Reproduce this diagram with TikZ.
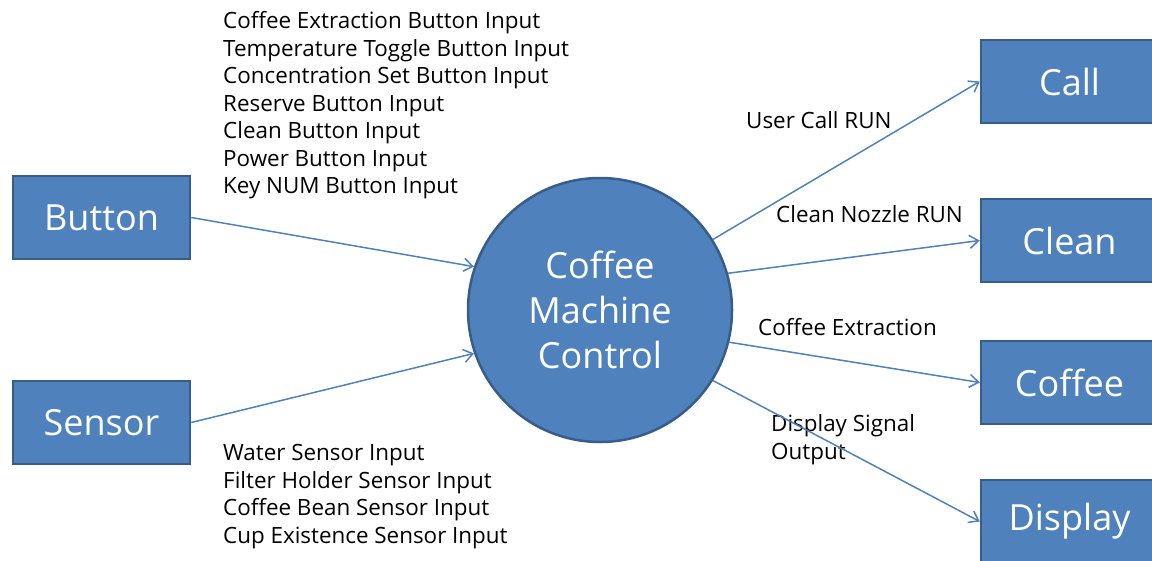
\documentclass[tikz,border=0pt]{standalone}
\usepackage{fontspec}
\setmainfont{Open Sans}
\usetikzlibrary{arrows.meta, positioning, shapes.geometric}
\definecolor{boxfill}{HTML}{4F81BD}
\definecolor{boxline}{HTML}{385D8A}

\begin{document}
\begin{tikzpicture}[x=1pt,y=-1pt,>={Straight Barb[length=9pt,width=13pt,line width=1.5pt]}]
  \tikzstyle{block}=[draw=boxline,line width=2.5pt,fill=boxfill,text=white,
    minimum width=177pt,minimum height=83pt,font=\fontsize{36}{40}\selectfont]
  \tikzstyle{ctrl}=[circle,draw=boxline,line width=2.5pt,fill=boxfill,text=white,
    minimum size=264pt,align=center,font=\fontsize{36}{45}\selectfont]
  \tikzstyle{flow}=[color=boxfill,line width=1.5pt]
  \tikzstyle{lbl}=[anchor=west,align=left,inner sep=0pt,font=\fontsize{22.4}{27.5}\selectfont]

  \useasboundingbox (0,0) rectangle (1152,560);
  \clip (0,0) rectangle (1152,560);

  % inputs and outputs
  \node[block] (button)  at (101.5,217.5) {Button};
  \node[block] (sensor)  at (101.5,422.5) {Sensor};
  \node[ctrl]  (machine) at (600,310)     {Coffee\\Machine\\Control};
  \node[block] (call)    at (1069.5,81.5) {Call};
  \node[block] (clean)   at (1069.5,240.5) {Clean};
  \node[block] (coffee)  at (1069.5,382.5) {Coffee};
  \node[block] (display) at (1069.5,521.5) {Display};

  % labels
  \node[lbl] (buttonin) at (223,105.5) {Coffee Extraction Button Input\\
    Temperature Toggle Button Input\\Concentration Set Button Input\\
    Reserve Button Input\\Clean Button Input\\Power Button Input\\
    Key NUM Button Input};
  \node[lbl] (sensorin) at (223,496.5) {Water Sensor Input\\
    Filter Holder Sensor Input\\Coffee Bean Sensor Input\\
    Cup Existence Sensor Input};
  \node[lbl] (callout)  at (746,120) {User Call RUN};
  \node[lbl] (cleanout) at (776,214) {Clean Nozzle RUN};
  \node[lbl] (coffout)  at (758,327) {Coffee Extraction};
  \node[lbl] (dispout)  at (771,439.5) {Display Signal\\Output};

  \path[flow,->]
  (button.east)    edge (machine.161)
  (sensor.east)    edge (machine.199)
  (machine.32)     edge (call.west)
  (machine.16.5)   edge (clean.west)
  (machine.346)    edge (coffee.west)
  (machine.328.3)  edge (display.west)
  ;
\end{tikzpicture}
\end{document}
